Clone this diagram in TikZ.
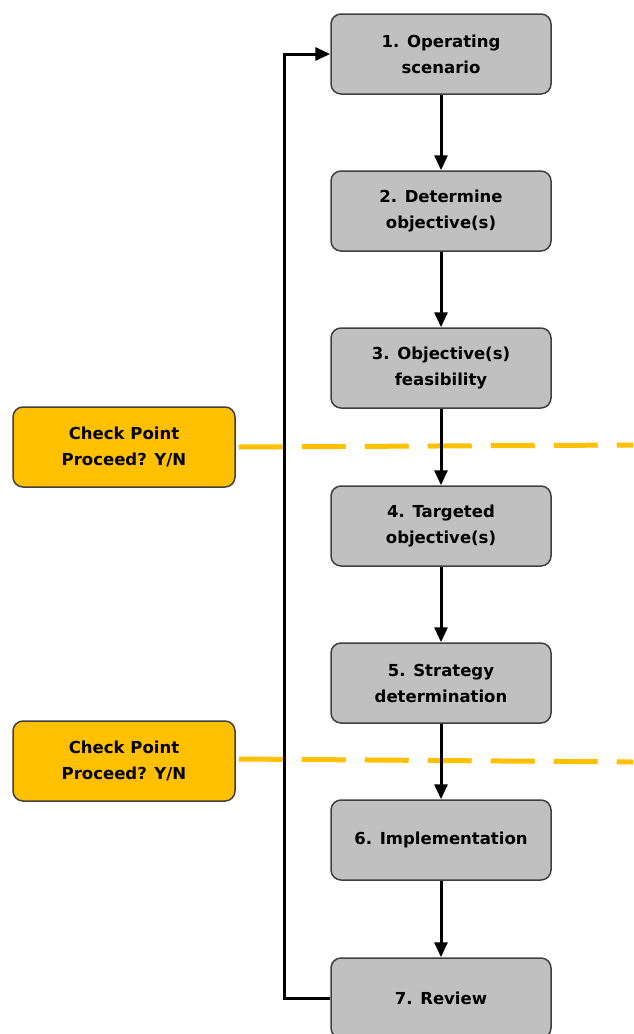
\documentclass[tikz,border=0pt]{standalone}
\usepackage{fontspec}
\setmainfont{DejaVu Sans}
\usetikzlibrary{arrows.meta}
\definecolor{boxgray}{HTML}{C0C0C0}
\definecolor{cpyellow}{HTML}{FFC000}
\definecolor{edgegray}{HTML}{404040}
\tikzset{
  stepbox/.style={draw=edgegray, line width=1.5pt, fill=boxgray, rounded corners=10pt,
    minimum width=220pt, minimum height=80pt, align=center, inner sep=0pt,
    font=\bfseries\fontsize{16.5}{26}\selectfont},
  cpbox/.style={stepbox, fill=cpyellow, minimum width=222pt},
  flow/.style={line width=3pt, -{Triangle[length=15pt,width=13pt]}},
  cpline/.style={cpyellow, line width=5pt, dash pattern=on 44pt off 19pt},
}
\begin{document}
\begin{tikzpicture}[x=1pt,y=-1pt]
\useasboundingbox (0,0) rectangle (633,1034);
\fill[white] (0,0) rectangle (633,1034);
% checkpoint boxes and dashed lines
\node[cpbox] (cp1) at (124,447) {Check Point\\Proceed? Y/N};
\node[cpbox] (cp2) at (124,761) {Check Point\\Proceed? Y/N};
\coordinate (e1) at (633,445);
\coordinate (e2) at (633,762);
\draw[cpline] (cp1.east) ++(3,0) -- (e1);
\draw[cpline] (cp2.east) ++(3,-2) -- (e2);
% steps
\node[stepbox] (s1) at (441,54) {1. Operating\\scenario};
\node[stepbox] (s2) at (441,211) {2. Determine\\objective(s)};
\node[stepbox] (s3) at (441,368) {3. Objective(s)\\feasibility};
\node[stepbox] (s4) at (441,526) {4. Targeted\\objective(s)};
\node[stepbox] (s5) at (441,683) {5. Strategy\\determination};
\node[stepbox] (s6) at (441,840) {6. Implementation};
\node[stepbox] (s7) at (441,998) {7. Review};
\foreach \a/\b in {s1/s2,s2/s3,s3/s4,s4/s5,s5/s6,s6/s7}
  \draw[flow] (\a.south) -- (\b.north);
\coordinate (lb) at (284,998);
\coordinate (lt) at (284,54);
\draw[flow, line join=miter] (s7.west) -- (lb) -- (lt) -- (s1.west);
\end{tikzpicture}
\end{document}
